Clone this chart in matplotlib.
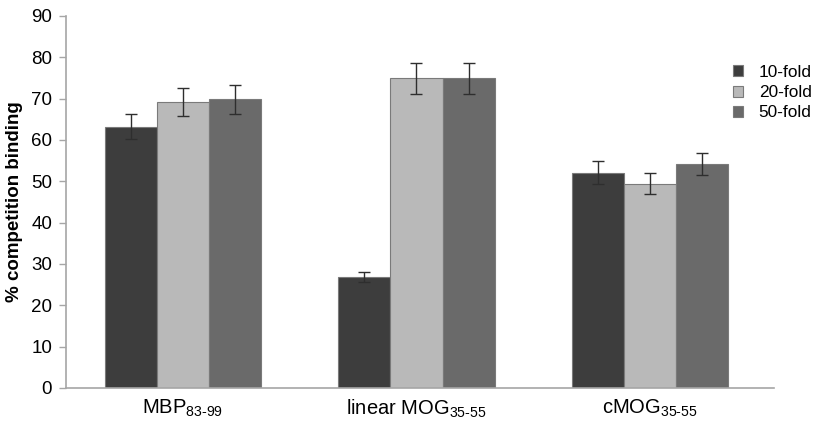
import numpy as np
import matplotlib
matplotlib.use("Agg")
import matplotlib.pyplot as plt

plt.rcParams.update({"font.family": ["Liberation Sans", "DejaVu Sans"], "mathtext.fontset": "custom",
                     "mathtext.rm": "Liberation Sans", "mathtext.it": "Liberation Sans"})

# ---- data ----
groups = [r"MBP$_{\mathrm{83\text{-}99}}$", r"linear MOG$_{\mathrm{35\text{-}55}}$", r"cMOG$_{\mathrm{35\text{-}55}}$"]
series = ["10-fold", "20-fold", "50-fold"]
fold10 = [63.2, 26.8, 52.1]
fold20 = [69.3, 74.9, 49.4]
fold50 = [69.8, 74.9, 54.2]
err10 = [3.0, 1.2, 2.7]
err20 = [3.4, 3.8, 2.5]
err50 = [3.6, 3.8, 2.7]

colors = ["#3d3d3d", "#b9b9b9", "#6a6a6a"]
AXC = "#a6a6a6"

fig = plt.figure(figsize=(8.25, 4.22), dpi=100)
ax = fig.add_axes([66 / 825, 1 - 388 / 422, (774 - 66) / 825, (388 - 16) / 422])

x = np.arange(len(groups))
w = 0.223
for i, (vals, errs) in enumerate([(fold10, err10), (fold20, err20), (fold50, err50)]):
    ax.bar(x + (i - 1) * w, vals, w, color=colors[i], edgecolor="#7a7a7a", linewidth=0.8,
           label=series[i], zorder=2)
    ax.errorbar(x + (i - 1) * w, vals, yerr=errs, fmt="none", ecolor="#2e2e2e",
                elinewidth=1.0, capsize=4, capthick=1.0, zorder=3)

ax.set_xlim(-0.5, 2.53)
ax.set_ylim(0, 90)
ax.set_yticks(np.arange(0, 91, 10))
ax.set_xticks(x)
ax.set_xticklabels(groups, fontsize=14.5)
ax.tick_params(axis="x", length=0, pad=7)
ax.tick_params(axis="y", labelsize=13.5, color=AXC, length=5, width=1, pad=5)
for s in ["top", "right"]:
    ax.spines[s].set_visible(False)
for s in ["left", "bottom"]:
    ax.spines[s].set_color(AXC)
    ax.spines[s].set_linewidth(1.2)
ax.set_ylabel("% competition binding", fontsize=13.5, fontweight="bold", labelpad=6)

ax.legend(loc="upper left", bbox_to_anchor=(0.92, 0.91), frameon=False, fontsize=12.4,
          handlelength=0.6, handleheight=0.6, handletextpad=0.9, labelspacing=0.3)

fig.savefig("out.png", dpi=100)
